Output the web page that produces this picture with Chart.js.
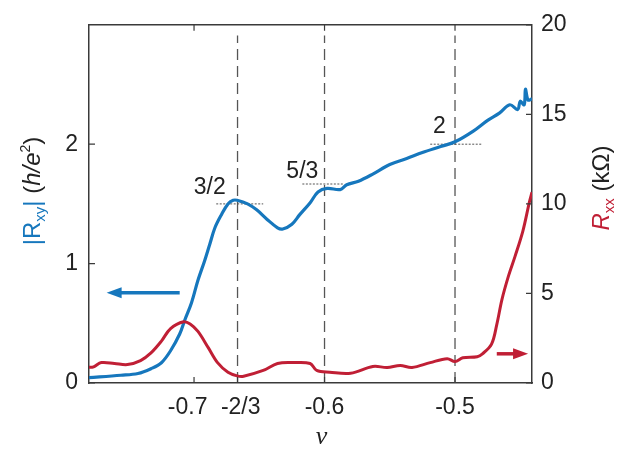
<!DOCTYPE html>
<html lang="en">
<head>
<meta charset="UTF-8">
<title>Rxy Rxx</title>
<style>
  body { margin: 0; background: #fff; }
  #wrap { width: 630px; height: 456px; }
</style>
</head>
<body>
<div id="wrap"><canvas id="chart" width="630" height="456"></canvas></div>
<script src="https://cdn.jsdelivr.net/npm/chart.js"></script>
<script>
// filling factor nu and measured curves
const rxyNu = [-0.781, -0.756, -0.743, -0.733, -0.725, -0.718, -0.711, -0.707, -0.702, -0.697, -0.692, -0.688, -0.684, -0.679, -0.674, -0.670, -0.667, -0.659, -0.652, -0.644, -0.636, -0.632, -0.625, -0.619, -0.611, -0.605, -0.598, -0.588, -0.583, -0.574, -0.563, -0.550, -0.537, -0.525, -0.511, -0.500, -0.486, -0.475, -0.466, -0.458, -0.452, -0.450, -0.447, -0.446, -0.444, -0.441];
const rxyVal = [0.045, 0.065, 0.08, 0.12, 0.17, 0.27, 0.41, 0.53, 0.67, 0.86, 1.02, 1.16, 1.30, 1.41, 1.50, 1.53, 1.53, 1.50, 1.45, 1.37, 1.30, 1.29, 1.33, 1.41, 1.51, 1.60, 1.63, 1.62, 1.66, 1.69, 1.75, 1.83, 1.88, 1.93, 1.98, 2.02, 2.11, 2.20, 2.26, 2.33, 2.29, 2.36, 2.33, 2.46, 2.37, 2.38];

const rxxNu = [-0.781, -0.777, -0.771, -0.761, -0.751, -0.741, -0.733, -0.725, -0.718, -0.708, -0.703, -0.697, -0.689, -0.682, -0.674, -0.667, -0.662, -0.647, -0.636, -0.624, -0.611, -0.606, -0.596, -0.580, -0.563, -0.552, -0.542, -0.533, -0.519, -0.506, -0.500, -0.494, -0.483, -0.479, -0.472, -0.468, -0.464, -0.459, -0.454, -0.448, -0.443, -0.441];
const rxxVal = [0.87, 0.90, 1.14, 1.09, 1.03, 1.25, 1.68, 2.34, 3.04, 3.42, 3.30, 2.88, 1.96, 1.14, 0.60, 0.40, 0.38, 0.70, 1.09, 1.14, 1.09, 0.70, 0.60, 0.54, 0.92, 0.87, 0.98, 0.87, 1.14, 1.36, 1.20, 1.41, 1.47, 1.63, 2.17, 3.26, 4.67, 5.98, 7.07, 8.48, 10.1, 10.65];

// axis ticks
const xTicks = [-0.7, -2 / 3, -0.6, -0.5];
const xTickLabels = ['-0.7  ', ' -2/3', '-0.6', '-0.5'];
const yLeftTicks = [0, 1, 2];
const yRightTicks = [0, 5, 10, 15, 20];

// fractional fillings marked by dashed lines, plateau values
const markNu = [-2 / 3, -0.6, -0.5];
const plateauLabels = ['3/2', '5/3', '2'];
const plateauVal = [1.5, 5 / 3, 2];
const plateauFrom = [-0.683, -0.617, -0.519];
const plateauTo = [-0.647, -0.586, -0.479];
const plateauTextNu = [-0.688, -0.617, -0.512];
const plateauTextVal = [1.64, 1.77, 2.15];

// arrows: [nuStart, nuEnd, value]
const arrowLeft = [-0.711, -0.767, 0.756];
const arrowRight = [-0.468, -0.444, 1.63];

const BLUE = '#1677BD';
const RED = '#C01F35';
const AXIS = '#3a3a3a';
const FONT = '"Liberation Sans", Arial, sans-serif';
const FS = 23;

const datasets = [];
datasets.push({
    data: rxxNu.map((x, i) => ({ x: x, y: rxxVal[i] })),
    yAxisID: 'yR', borderColor: RED, borderWidth: 3, pointRadius: 0,
    tension: 0.35, order: 1
});
datasets.push({
    data: rxyNu.map((x, i) => ({ x: x, y: rxyVal[i] })),
    yAxisID: 'yL', borderColor: BLUE, borderWidth: 3.2, pointRadius: 0,
    tension: 0.35, order: 2
});
markNu.forEach(n => {
    datasets.push({
        data: [{ x: n, y: 0 }, { x: n, y: 2.91 }],
        yAxisID: 'yL', borderColor: '#555', borderWidth: 1.3, borderDash: [11, 6],
        pointRadius: 0, order: 4
    });
});
plateauVal.forEach((v, i) => {
    datasets.push({
        data: [{ x: plateauFrom[i], y: v }, { x: plateauTo[i], y: v }],
        yAxisID: 'yL', borderColor: '#555', borderWidth: 1, borderDash: [2, 1.5],
        pointRadius: 0, order: 3
    });
});

function drawRuns(ctx, runs, cx, cy) {
    let total = 0;
    runs.forEach(r => { ctx.font = r.font; total += ctx.measureText(r.text).width; });
    let x = cx - total / 2;
    runs.forEach(r => {
        ctx.font = r.font;
        ctx.fillStyle = r.color;
        ctx.fillText(r.text, x, cy + (r.dy || 0));
        x += ctx.measureText(r.text).width;
    });
}

function arrow(ctx, x0, x1, y, color) {
    const dir = Math.sign(x1 - x0);
    ctx.save();
    ctx.strokeStyle = color;
    ctx.fillStyle = color;
    ctx.lineWidth = 3.5;
    ctx.beginPath();
    ctx.moveTo(x0, y);
    ctx.lineTo(x1 - dir * 10, y);
    ctx.stroke();
    ctx.beginPath();
    ctx.moveTo(x1, y);
    ctx.lineTo(x1 - dir * 15, y - 5.5);
    ctx.lineTo(x1 - dir * 15, y + 5.5);
    ctx.closePath();
    ctx.fill();
    ctx.restore();
}

const extras = {
    id: 'extras',
    afterDraw(chart) {
        const ctx = chart.ctx;
        const a = chart.chartArea;
        const sx = chart.scales.x, sl = chart.scales.yL, sr = chart.scales.yR;
        ctx.save();
        // top frame line
        ctx.strokeStyle = AXIS;
        ctx.lineWidth = 1.5;
        ctx.beginPath();
        ctx.moveTo(a.left, a.top);
        ctx.lineTo(a.right, a.top);
        ctx.stroke();
        // inward ticks
        ctx.lineWidth = 1.2;
        const tl = 6;
        ctx.beginPath();
        xTicks.forEach((t, i) => {
            const px = sx.getPixelForValue(t);
            ctx.moveTo(px, a.bottom); ctx.lineTo(px, a.bottom - tl);
            if (i !== 1) { ctx.moveTo(px, a.top); ctx.lineTo(px, a.top + tl); }
        });
        yLeftTicks.forEach(t => {
            const py = sl.getPixelForValue(t);
            ctx.moveTo(a.left, py); ctx.lineTo(a.left + tl, py);
        });
        yRightTicks.forEach(t => {
            const py = sr.getPixelForValue(t);
            ctx.moveTo(a.right, py); ctx.lineTo(a.right - tl, py);
        });
        ctx.stroke();

        // plateau labels
        ctx.textBaseline = 'middle';
        ctx.textAlign = 'center';
        ctx.fillStyle = '#222';
        ctx.font = FS + 'px ' + FONT;
        plateauLabels.forEach((s, i) => {
            ctx.fillText(s, sx.getPixelForValue(plateauTextNu[i]), sl.getPixelForValue(plateauTextVal[i]));
        });

        // arrows
        arrow(ctx, sx.getPixelForValue(arrowLeft[0]), sx.getPixelForValue(arrowLeft[1]), sl.getPixelForValue(arrowLeft[2]), BLUE);
        arrow(ctx, sx.getPixelForValue(arrowRight[0]), sx.getPixelForValue(arrowRight[1]), sr.getPixelForValue(arrowRight[2]), RED);

        // axis titles
        ctx.textAlign = 'left';
        ctx.textBaseline = 'alphabetic';
        const big = '24px ' + FONT;
        const bigI = 'italic 24px ' + FONT;
        const sub = '15px ' + FONT;
        const sup = '14px ' + FONT;

        ctx.save();
        ctx.translate(40, 191);
        ctx.rotate(-Math.PI / 2);
        drawRuns(ctx, [
            { text: '|R', font: big, color: BLUE },
            { text: 'xy', font: sub, color: BLUE, dy: 5 },
            { text: '| ', font: big, color: BLUE },
            { text: '(', font: big, color: '#222' },
            { text: 'h/e', font: bigI, color: '#222' },
            { text: '2', font: sup, color: '#222', dy: -10 },
            { text: ')', font: big, color: '#222' }
        ], 0, 0);
        ctx.restore();

        ctx.save();
        ctx.translate(609, 188);
        ctx.rotate(-Math.PI / 2);
        drawRuns(ctx, [
            { text: 'R', font: bigI, color: RED },
            { text: 'xx', font: sub, color: RED, dy: 5 },
            { text: ' (k\u03A9)', font: big, color: '#222' }
        ], 0, 0);
        ctx.restore();

        ctx.textAlign = 'center';
        ctx.fillStyle = '#222';
        ctx.font = 'italic 26px "Liberation Serif", "DejaVu Serif", serif';
        ctx.fillText('\u03BD', (a.left + a.right) / 2 + 11, 444);
        ctx.restore();
    }
};

new Chart(document.getElementById('chart'), {
    type: 'line',
    data: { datasets: datasets },
    options: {
        responsive: false,
        animation: false,
        layout: { padding: { top: 15, left: 0, right: 0, bottom: 0 } },
        plugins: { legend: { display: false }, tooltip: { enabled: false } },
        scales: {
            x: {
                type: 'linear', position: 'bottom', min: -0.7805, max: -0.441,
                afterBuildTicks: s => { s.ticks = xTicks.map(v => ({ value: v })); },
                afterFit: s => { s.height = 73; },
                grid: { display: false, drawTicks: false },
                border: { display: true, color: AXIS, width: 1.5 },
                ticks: {
                    autoSkip: false, maxRotation: 0, padding: 11, color: '#222',
                    font: { family: FONT, size: FS },
                    callback: (v, i) => xTickLabels[i]
                }
            },
            yL: {
                type: 'linear', position: 'left', min: 0, max: 3,
                afterBuildTicks: s => { s.ticks = yLeftTicks.map(v => ({ value: v })); },
                afterFit: s => { s.width = 89; },
                grid: { display: false, drawTicks: false },
                border: { display: true, color: AXIS, width: 1.5 },
                ticks: { padding: 11, color: '#222', font: { family: FONT, size: FS } }
            },
            yR: {
                type: 'linear', position: 'right', min: 0, max: 20,
                afterBuildTicks: s => { s.ticks = yRightTicks.map(v => ({ value: v })); },
                afterFit: s => { s.width = 98; },
                grid: { display: false, drawTicks: false },
                border: { display: true, color: AXIS, width: 1.5 },
                ticks: { padding: 9, color: '#222', font: { family: FONT, size: FS } }
            }
        }
    },
    plugins: [extras]
});
</script>
</body>
</html>
